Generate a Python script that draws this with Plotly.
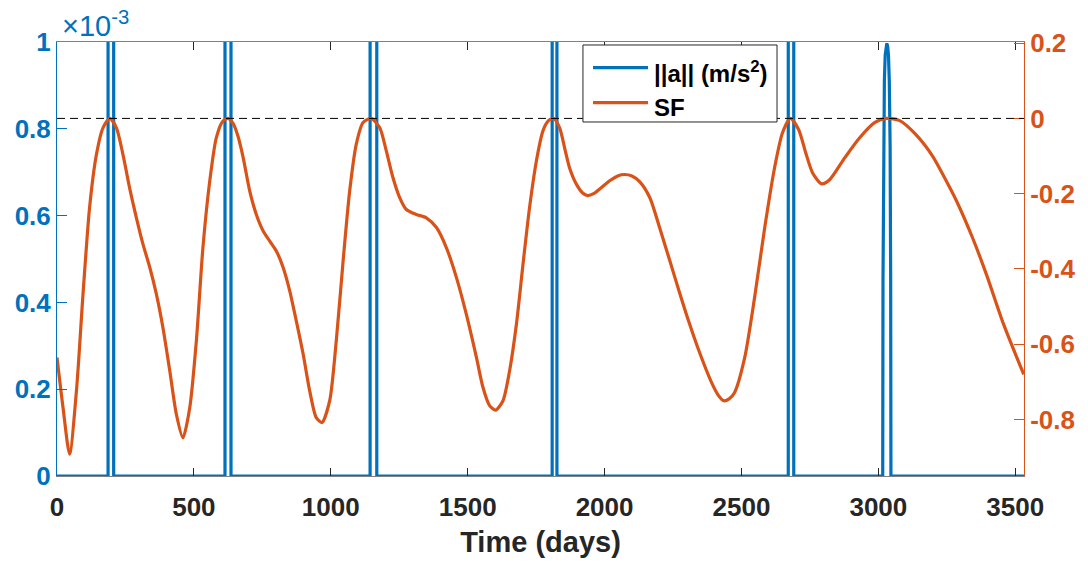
import plotly.graph_objects as go

# ---------------- data ----------------
# thrust magnitude ||a|| (m/s^2): bang-bang pulses (top clipped by the axis)
a_days = [0, 186.5, 186.5, 207, 207,
          613.6, 613.6, 635.5, 635.5,
          1143.6, 1143.6, 1168, 1168,
          1808.6, 1808.6, 1826, 1826,
          2671, 2671, 2691, 2691,
          3016, 3017, 3019, 3022, 3025, 3028, 3031, 3034, 3037, 3040, 3043, 3045, 3046,
          3532]
a_vals = [0, 0, 1.2e-3, 1.2e-3, 0,
          0, 1.2e-3, 1.2e-3, 0,
          0, 1.2e-3, 1.2e-3, 0,
          0, 1.2e-3, 1.2e-3, 0,
          0, 1.2e-3, 1.2e-3, 0,
          0, 0.45e-3, 0.76e-3, 0.91e-3, 0.97e-3, 0.99e-3, 0.997e-3, 0.99e-3, 0.97e-3,
          0.91e-3, 0.76e-3, 0.45e-3, 0,
          0]

# switching function SF
sf_days = [0, 22, 46, 71, 95, 119, 144, 168, 193, 217, 241, 265, 290, 314, 339, 363,
           387, 412, 436, 460, 485, 509, 533, 558, 582, 605, 624, 642, 660, 680, 704,
           728, 753, 777, 801, 826, 850, 874, 899, 923, 947, 968, 996, 1020, 1045,
           1069, 1093, 1118, 1148, 1179, 1203, 1227, 1252, 1276, 1312, 1349, 1386,
           1422, 1459, 1495, 1532, 1556, 1580, 1602, 1629, 1653, 1678, 1702, 1726,
           1751, 1775, 1795, 1814, 1836, 1854, 1872, 1898, 1920, 1938, 1960, 1990,
           2020, 2050, 2073, 2100, 2128, 2165, 2201, 2237, 2274, 2310, 2347, 2391,
           2415, 2435, 2455, 2475, 2512, 2548, 2585, 2621, 2650, 2679, 2709, 2735,
           2760, 2793, 2822, 2877, 2931, 2986, 3030, 3078, 3133, 3198, 3240, 3286,
           3344, 3395, 3458, 3531]
sf_vals = [-0.635, -0.768, -0.892, -0.724, -0.467, -0.237, -0.096, -0.025, 0.0,
           -0.025, -0.096, -0.184, -0.264, -0.334, -0.396, -0.467, -0.556, -0.671,
           -0.786, -0.849, -0.768, -0.591, -0.343, -0.166, -0.051, -0.008, 0.0,
           -0.012, -0.045, -0.104, -0.193, -0.255, -0.299, -0.326, -0.352, -0.396,
           -0.458, -0.538, -0.626, -0.724, -0.795, -0.808, -0.750, -0.591, -0.379,
           -0.193, -0.069, -0.011, 0.0, -0.025, -0.087, -0.157, -0.211, -0.242,
           -0.255, -0.264, -0.290, -0.343, -0.423, -0.520, -0.635, -0.715, -0.763,
           -0.775, -0.750, -0.671, -0.547, -0.388, -0.237, -0.113, -0.033, -0.006,
           0.0, -0.025, -0.078, -0.131, -0.176, -0.198, -0.205, -0.200, -0.183,
           -0.165, -0.152, -0.149, -0.153, -0.168, -0.210, -0.290, -0.375, -0.463,
           -0.545, -0.622, -0.702, -0.735, -0.750, -0.745, -0.728, -0.635, -0.476,
           -0.290, -0.131, -0.038, 0.0, -0.030, -0.092, -0.145, -0.174, -0.163,
           -0.105, -0.052, -0.011, 0.0, -0.006, -0.040, -0.100, -0.155, -0.220,
           -0.317, -0.415, -0.548, -0.680]

x_ticks = [0, 500, 1000, 1500, 2000, 2500, 3000, 3500]
x_tick_labels = ["0", "500", "1000", "1500", "2000", "2500", "3000", "3500"]
y1_ticks = [0, 0.2e-3, 0.4e-3, 0.6e-3, 0.8e-3, 1.0e-3]
y1_tick_labels = ["0", "0.2", "0.4", "0.6", "0.8", "1"]
y2_ticks = [-0.8, -0.6, -0.4, -0.2, 0, 0.2]
y2_tick_labels = ["-0.8", "-0.6", "-0.4", "-0.2", "0", "0.2"]
legend_labels = ["||a|| (m/s<sup>2</sup>)", "SF"]

BLUE = "#0072BD"
ORANGE = "#D95319"
DARK = "#262626"
FONT = "Liberation Sans, Arial, sans-serif"

fig = go.Figure()
fig.add_trace(go.Scatter(x=a_days, y=a_vals, mode="lines", name=legend_labels[0],
                         line=dict(color=BLUE, width=3.2), yaxis="y", showlegend=False))
fig.add_trace(go.Scatter(x=sf_days, y=sf_vals, mode="lines", name=legend_labels[1],
                         line=dict(color=ORANGE, width=3.2, shape="spline", smoothing=0.7),
                         yaxis="y2", showlegend=False))

# dashed zero line of SF
fig.add_shape(type="line", xref="paper", x0=0, x1=1, yref="y2", y0=0, y1=0,
              line=dict(color="black", width=1, dash="8px,5px"))

# legend box (MATLAB style)
fig.add_shape(type="rect", xref="paper", yref="paper", x0=0.5439, x1=0.7446,
              y0=0.8157, y1=0.9931, fillcolor="white", line=dict(color=DARK, width=1))
for yy, col in [(0.9408, BLUE), (0.8602, ORANGE)]:
    fig.add_shape(type="line", xref="paper", yref="paper", x0=0.5543, x1=0.6112,
                  y0=yy, y1=yy, line=dict(color=col, width=3.2))
for yy, txt in [(0.930, legend_labels[0]), (0.850, legend_labels[1])]:
    fig.add_annotation(text=txt, xref="paper", yref="paper", x=0.6150, y=yy,
                       xanchor="left", yanchor="middle", showarrow=False,
                       font=dict(family=FONT, size=24, color="black", weight="bold"))

fig.add_annotation(text="×10<sup>-3</sup>", xref="paper", yref="paper", x=0, y=1,
                   xanchor="left", yanchor="bottom", xshift=3, yshift=-2, showarrow=False,
                   font=dict(family=FONT, size=29, color=BLUE, weight="normal"))

fig.update_layout(
    width=1088, height=564,
    margin=dict(l=57, r=64, t=42, b=88),
    paper_bgcolor="white", plot_bgcolor="white",
    font=dict(family=FONT, size=26, color=DARK, weight="bold"),
    showlegend=False,
    xaxis=dict(range=[0, 3532], tickvals=x_ticks, ticktext=x_tick_labels,
               ticks="inside", ticklen=8, tickcolor=DARK, showline=True,
               linecolor="#808080", linewidth=1, mirror="ticks", showgrid=False,
               zeroline=False, tickfont=dict(color=DARK, size=26), ticklabelstandoff=8,
               title=dict(text="Time (days)", font=dict(size=29, color=DARK), standoff=10)),
    yaxis=dict(range=[0, 1.0e-3], tickvals=y1_ticks, ticktext=y1_tick_labels,
               ticks="inside", ticklen=10, tickcolor=BLUE, showline=True,
               linecolor=BLUE, linewidth=1, showgrid=False, zeroline=False,
               tickfont=dict(color=BLUE, size=26)),
    yaxis2=dict(range=[-0.95, 0.203], tickvals=y2_ticks, ticktext=y2_tick_labels,
                overlaying="y", side="right", ticks="inside", ticklen=10,
                tickcolor=ORANGE, showline=True, linecolor=ORANGE, linewidth=1,
                showgrid=False, zeroline=False, tickfont=dict(color=ORANGE, size=26)),
)

fig.write_html("out.html")
